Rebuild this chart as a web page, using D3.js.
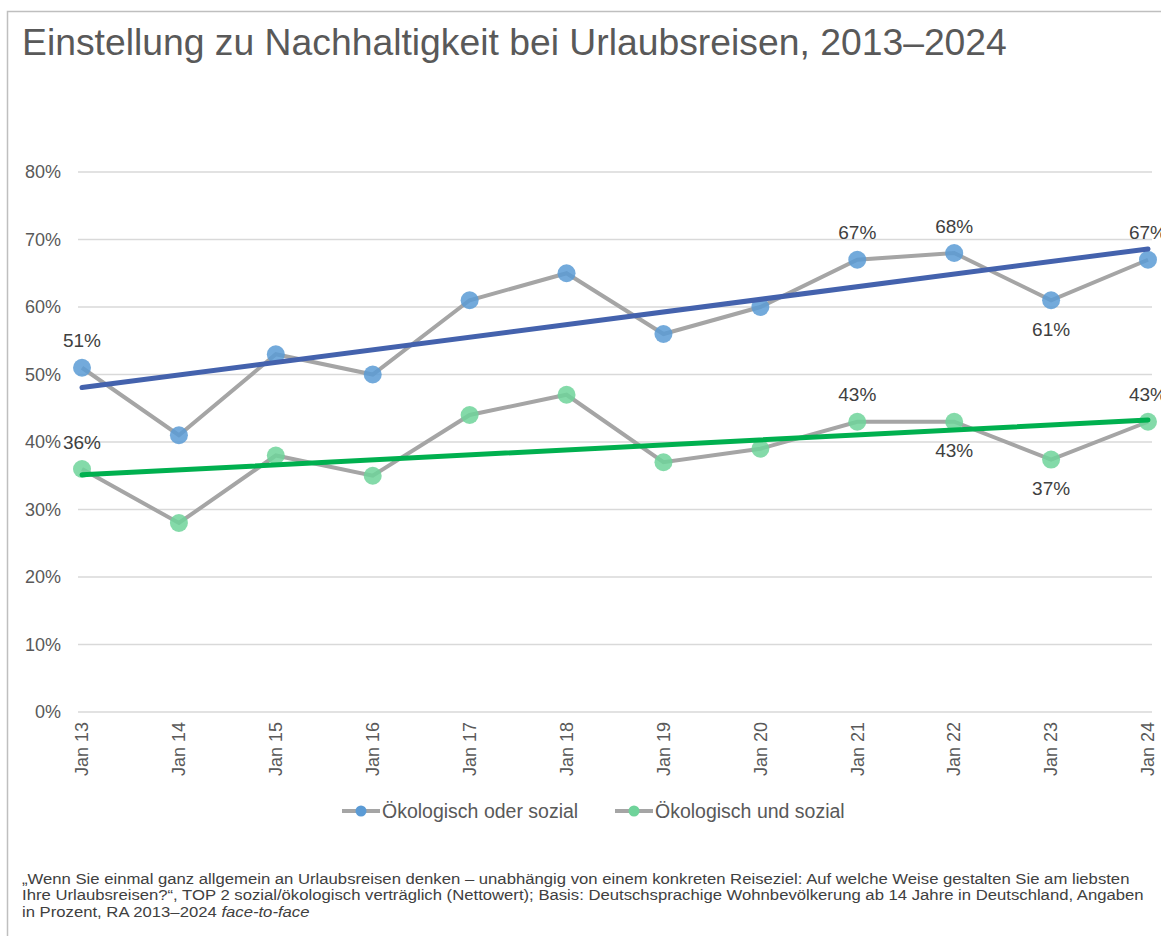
<!DOCTYPE html>
<html>
  <head>
    <meta charset="UTF-8">
    <title>Einstellung zu Nachhaltigkeit</title>
    <style>
    body {
      margin: 0;
      background: #fff;
    }
    svg {
      display: block;
      font-family: "Liberation Sans", Arial, sans-serif;
    }
    .grid line {
      stroke: #d9d9d9;
      stroke-width: 1.5px;
    }
    .tick-label {
      fill: #595959;
      font-size: 18px;
    }
    .legend-label {
      fill: #595959;
      font-size: 19.5px;
    }
    .data-label {
      fill: #404040;
      font-size: 19px;
      text-anchor: middle;
    }
    .footnote {
      fill: #404040;
      font-size: 15.4px;
    }
    </style>
  </head>
  <body>
    <svg width="1161" height="936"></svg>
    <script src="https://d3js.org/d3.v7.min.js"></script>
    <script>
// data
var categories = ["Jan 13", "Jan 14", "Jan 15", "Jan 16", "Jan 17", "Jan 18",
                  "Jan 19", "Jan 20", "Jan 21", "Jan 22", "Jan 23", "Jan 24"];
var oderSozial = [51, 41, 53, 50, 61, 65, 56, 60, 67, 68, 61, 67];
var undSozial  = [36, 28, 38, 35, 44, 47, 37, 39, 43, 43, 37.4, 43];
var yTicks = [0, 10, 20, 30, 40, 50, 60, 70, 80];
var seriesNames = ["Ökologisch oder sozial", "Ökologisch und sozial"];

// which points get a value label, and where (above / below)
var oderLabels = {0: "above", 8: "above", 9: "above", 10: "below", 11: "above"};
var undLabels  = {0: "above", 8: "above", 9: "below", 10: "below", 11: "above"};

var title = "Einstellung zu Nachhaltigkeit bei Urlaubsreisen, 2013\u20132024";
var footnote = [
  "\u201EWenn Sie einmal ganz allgemein an Urlaubsreisen denken \u2013 unabh\u00E4ngig von einem konkreten Reiseziel: Auf welche Weise gestalten Sie am liebsten",
  "Ihre Urlaubsreisen?\u201C, TOP 2 sozial/\u00F6kologisch vertr\u00E4glich (Nettowert); Basis: Deutschsprachige Wohnbev\u00F6lkerung ab 14 Jahre in Deutschland, Angaben",
  "in Prozent, RA 2013\u20132024 "
];

var svg = d3.select("svg");

// outer frame (only left and top edges are visible in the picture)
svg.append("path")
    .attr("d", "M7.5,936 V11.5 H1161")
    .attr("fill", "none")
    .attr("stroke", "#bfbfbf")
    .attr("stroke-width", 1.5);

svg.append("text")
    .attr("x", 22)
    .attr("y", 55)
    .attr("fill", "#595959")
    .style("font-size", "37.3px")
    .text(title);

var x = d3.scalePoint()
    .domain(categories)
    .range([82, 1148]);

var y = d3.scaleLinear()
    .domain([0, 80])
    .range([712, 172]);

// gridlines
svg.append("g")
    .attr("class", "grid")
  .selectAll("line")
  .data(yTicks)
  .join("line")
    .attr("x1", 78)
    .attr("x2", 1152)
    .attr("y1", d => y(d))
    .attr("y2", d => y(d));

// y tick labels
svg.append("g")
  .selectAll("text")
  .data(yTicks)
  .join("text")
    .attr("class", "tick-label")
    .attr("x", 61)
    .attr("y", d => y(d))
    .attr("dy", "0.35em")
    .attr("text-anchor", "end")
    .text(d => d + "%");

// x tick labels, rotated
svg.append("g")
  .selectAll("text")
  .data(categories)
  .join("text")
    .attr("class", "tick-label")
    .attr("transform", d => "translate(" + x(d) + ",722) rotate(-90)")
    .attr("dy", "0.35em")
    .attr("text-anchor", "end")
    .text(d => d);

// least squares trendline over the category index
function trend(values) {
  var n = values.length,
      mx = d3.mean(values, (v, i) => i),
      my = d3.mean(values),
      sxy = d3.sum(values, (v, i) => (i - mx) * (v - my)),
      sxx = d3.sum(values, (v, i) => (i - mx) * (i - mx)),
      slope = sxy / sxx,
      icpt = my - slope * mx;
  return [icpt, icpt + slope * (n - 1)];
}

var line = d3.line()
    .x((d, i) => x(categories[i]))
    .y(d => y(d));

var series = [
  {values: oderSozial, marker: "#5b9bd5", trendColor: "#4462ad", labels: oderLabels},
  {values: undSozial,  marker: "#6fd39a", trendColor: "#00b04f", labels: undLabels}
];

var plot = svg.append("g");

series.forEach(s => {
  plot.append("path")
      .datum(s.values)
      .attr("d", line)
      .attr("fill", "none")
      .attr("stroke", "#a5a5a5")
      .attr("stroke-width", 4)
      .attr("stroke-linejoin", "miter");

  plot.selectAll(null)
    .data(s.values)
    .join("circle")
      .attr("cx", (d, i) => x(categories[i]))
      .attr("cy", d => y(d))
      .attr("r", 9)
      .attr("fill", s.marker)
      .attr("fill-opacity", 0.85);
});

series.forEach(s => {
  var t = trend(s.values);
  plot.append("line")
      .attr("x1", x(categories[0]))
      .attr("x2", x(categories[categories.length - 1]))
      .attr("y1", y(t[0]))
      .attr("y2", y(t[1]))
      .attr("stroke", s.trendColor)
      .attr("stroke-width", 5)
      .attr("stroke-linecap", "round");
});

// value labels
series.forEach(s => {
  var idx = Object.keys(s.labels).map(Number);
  plot.selectAll(null)
    .data(idx)
    .join("text")
      .attr("class", "data-label")
      .attr("x", i => x(categories[i]))
      .attr("y", i => y(s.values[i]) + (s.labels[i] == "above" ? -27 : 29))
      .attr("dy", "0.35em")
      .text(i => Math.round(s.values[i]) + "%");
});

// legend
var legend = svg.append("g");
var legendX = [342, 615];
seriesNames.forEach((name, i) => {
  var g = legend.append("g").attr("transform", "translate(" + legendX[i] + ",811)");
  g.append("line")
      .attr("x1", 0).attr("x2", 38)
      .attr("stroke", "#a5a5a5")
      .attr("stroke-width", 4);
  g.append("circle")
      .attr("cx", 19)
      .attr("r", 5.5)
      .attr("fill", series[i].marker);
  g.append("text")
      .attr("class", "legend-label")
      .attr("x", 40)
      .attr("dy", "0.35em")
      .text(name);
});

// footnote (glyphs a bit wider than tall in the original, so stretch horizontally)
var fn = svg.append("text")
    .attr("class", "footnote")
    .attr("transform", "translate(22,0) scale(1.084,1)");
footnote.forEach((l, i) => {
  fn.append("tspan")
      .attr("x", 0)
      .attr("y", 884 + i * 16.5)
      .text(l);
  if (i == footnote.length - 1) {
    fn.append("tspan")
        .style("font-style", "italic")
        .text("face-to-face");
  }
});
    </script>
  </body>
</html>
